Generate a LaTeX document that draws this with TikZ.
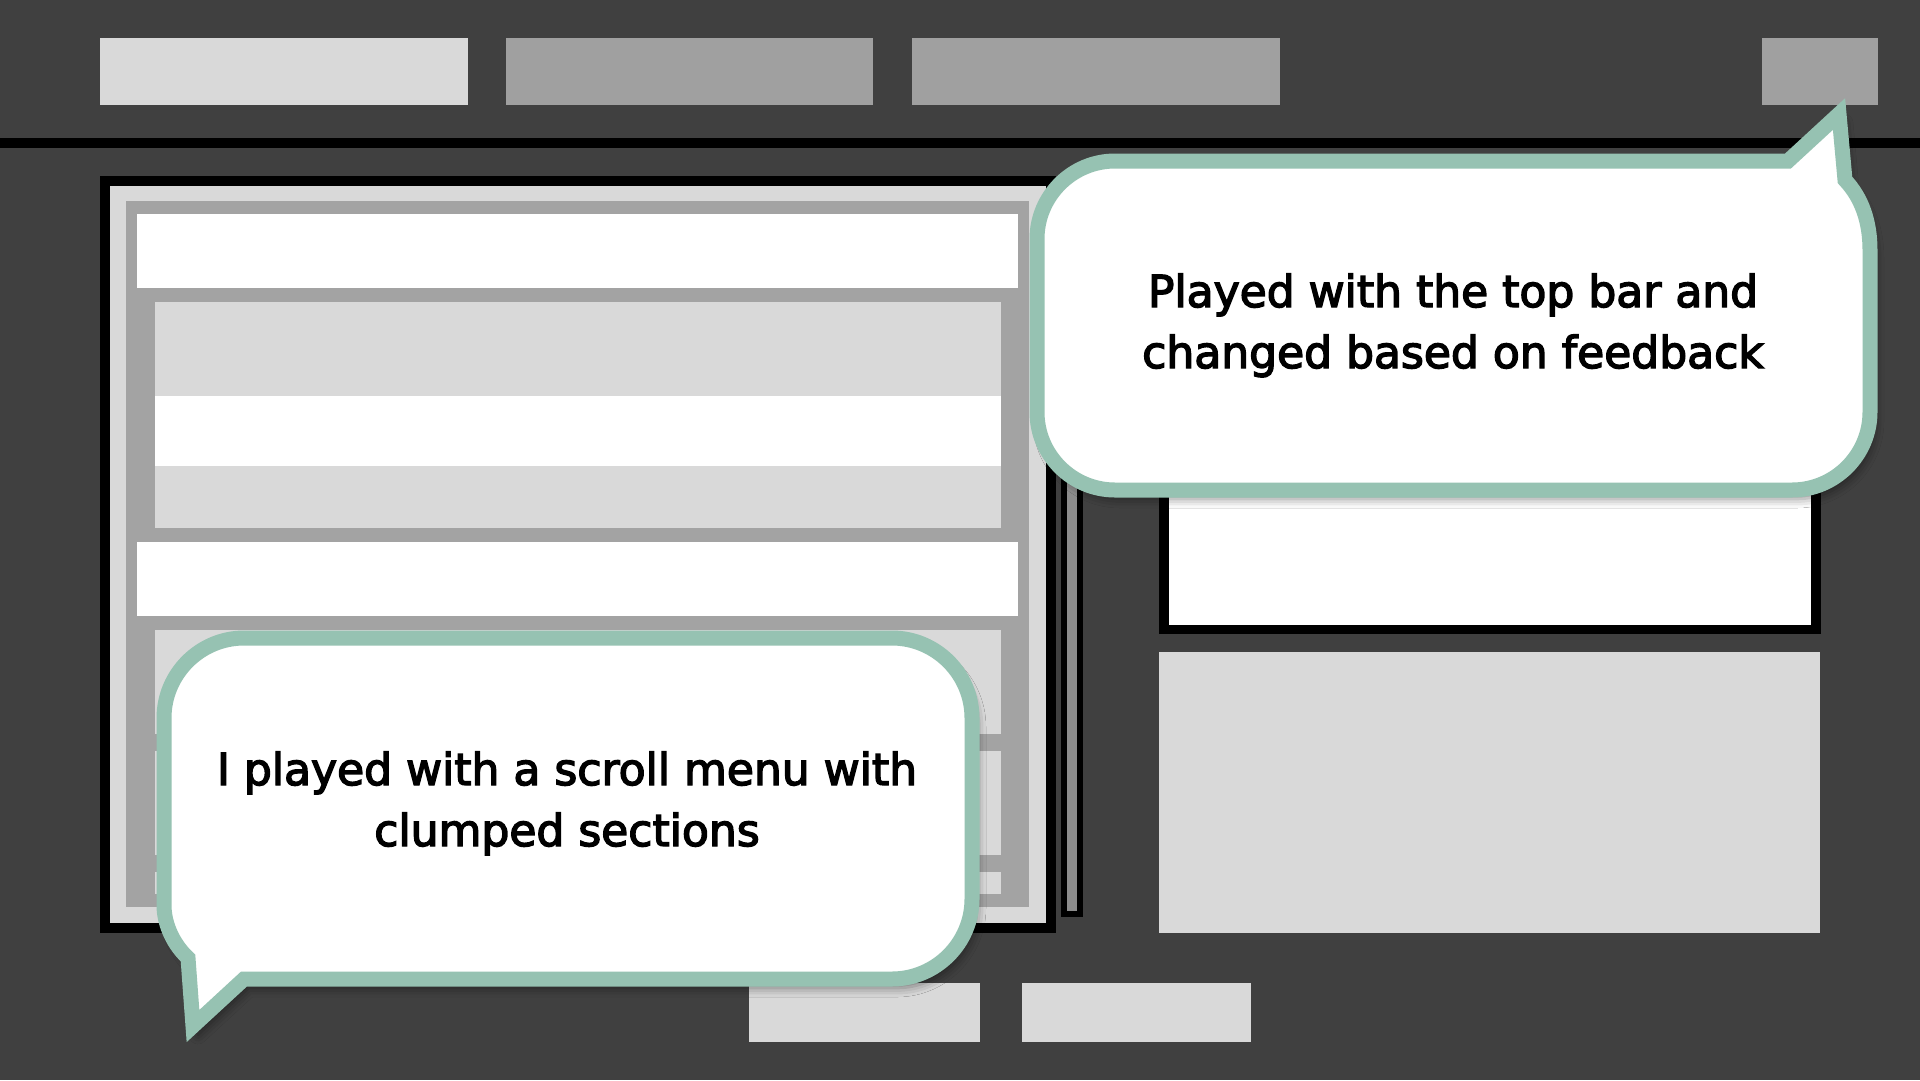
\documentclass[tikz,border=0pt]{standalone}
\usepackage{fontspec}
\setmainfont{DejaVu Sans}[FakeBold=3.2]
\usetikzlibrary{shadows.blur}
\definecolor{bgc}{HTML}{404040}
\definecolor{lgc}{HTML}{D9D9D9}
\definecolor{mgc}{HTML}{A3A3A3}
\definecolor{tabc}{HTML}{A0A0A0}
\definecolor{dgc}{HTML}{8C8C8C}
\definecolor{bubc}{HTML}{96C2B2}
\begin{document}
\begin{tikzpicture}[x=1pt,y=-1pt,
  bubble/.style={draw=bubc, line width=15pt, fill=white, line join=miter, miter limit=10,
    blur shadow={shadow xshift=5pt, shadow yshift=-9pt, shadow blur radius=9pt, shadow opacity=45}},
  btext/.style={anchor=base, inner sep=0pt, font=\fontsize{44}{53}\selectfont, text=black}]
\useasboundingbox (0,0) rectangle (1920,1080);
\fill[bgc] (0,0) rectangle (1920,1080);
% top bar tabs
\fill[lgc] (100,38) rectangle (468,105);
\fill[tabc] (506,38) rectangle (873,105);
\fill[tabc] (912,38) rectangle (1280,105);
\fill[tabc] (1762,38) rectangle (1878,105);
\fill[black] (0,138) rectangle (1920,148);
% back panel
\fill[black] (1061,200) rectangle (1083,917);
\fill[dgc] (1067,206) rectangle (1077,911);
% main panel
\fill[black] (100,176) rectangle (1056,933);
\fill[lgc] (110,186) rectangle (1046,923);
\fill[mgc] (126,201) rectangle (1029,907);
\fill[white] (137,214) rectangle (1018,288);
\fill[lgc] (155,302) rectangle (1001,396);
\fill[white] (155,396) rectangle (1001,466);
\fill[lgc] (155,466) rectangle (1001,528);
\fill[white] (137,542) rectangle (1018,616);
\fill[lgc] (155,630) rectangle (1001,734);
\fill[lgc] (155,751) rectangle (1001,855);
\fill[lgc] (155,872) rectangle (1001,894);
% right boxes
\fill[black] (1159,400) rectangle (1821,634);
\fill[white] (1169,400) rectangle (1811,625);
\fill[lgc] (1159,652) rectangle (1820,933);
% bottom tabs
\fill[lgc] (749,983) rectangle (980,1042);
\fill[lgc] (1022,983) rectangle (1251,1042);
% bubble 2 (bottom left)
\draw[bubble] (244,979) -- (892,979) .. controls (936,979) and (972,943) .. (972,899)
  -- (972,718) .. controls (972,674) and (936,638) .. (892,638)
  -- (244,638) .. controls (200,638) and (164,674) .. (164,718)
  -- (164,905) .. controls (164,925) and (174,945) .. (188,958)
  -- (193,1026) -- cycle;
\node[btext] (b2l1) at (567,785) {I played with a scroll menu with};
\node[btext] (b2l2) at (567,846) {clumped sections};
% bubble 1 (top right)
\draw[bubble] (1115,161) -- (1788,161) -- (1839,114) -- (1845,180)
  .. controls (1862,198) and (1870,222) .. (1870,250)
  -- (1870,412) .. controls (1870,455) and (1835,490) .. (1792,490)
  -- (1115,490) .. controls (1072,490) and (1037,455) .. (1037,412)
  -- (1037,239) .. controls (1037,196) and (1072,161) .. (1115,161) -- cycle;
\node[btext] (b1l1) at (1453,307) {Played with the top bar and};
\node[btext] (b1l2) at (1453,368) {changed based on feedback};
\end{tikzpicture}
\end{document}
